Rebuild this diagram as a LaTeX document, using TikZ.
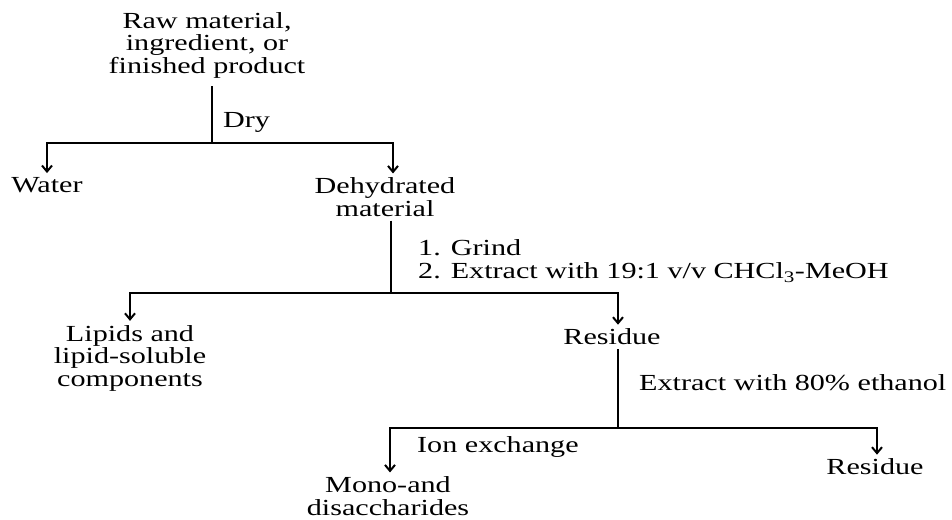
\documentclass[tikz,border=0pt]{standalone}
\usepackage{fontspec}
\setmainfont{Liberation Serif}[FakeStretch=1.31]
\usetikzlibrary{arrows.meta,positioning}

\begin{document}
\begin{tikzpicture}[
    x=1pt, y=-1pt,
    lbl/.style={font=\fontsize{23}{22.5}\selectfont, align=center, inner sep=4pt},
    note/.style={font=\fontsize{23}{23}\selectfont, align=left, anchor=west, inner sep=0pt},
    line/.style={line width=2pt},
    arr/.style={line width=2pt, -{Straight Barb[length=6pt,width=10pt]}}
]
\useasboundingbox (0,0) rectangle (952,519);

\node[lbl] (raw) at (207,45) {Raw material,\\ingredient, or\\finished product};
\node[note] (dry) at (223,122) {Dry};
\node[lbl] (water) at (47,185) {Water};
\node[lbl] (dehyd) at (385,197) {Dehydrated\\material};
\node[note] (grind) at (418,261) {1. Grind\\2. Extract with 19:1 v/v CHCl\textsubscript{3}-MeOH};
\node[lbl] (lipids) at (130,358) {Lipids and\\lipid-soluble\\components};
\node[lbl] (res1) at (612,337) {Residue};
\node[note] (ethanol) at (639,383) {Extract with 80\% ethanol};
\node[note] (ion) at (417,447) {Ion exchange};
\node[lbl] (res2) at (875,467) {Residue};
\node[lbl] (mono) at (388,496) {Mono-and\\disaccharides};

% branch points
\coordinate (j1) at (212,143);
\coordinate (j2) at (391,293);
\coordinate (j3) at (618,428);

\draw[line, shorten <=4pt] (raw.south -| j1) -- (j1);
\draw[arr] (j1) -| (water);
\draw[arr] (j1) -| (dehyd.north -| 393,0);
\draw[line] (dehyd.south -| j2) -- (j2);
\draw[arr] (j2) -| (lipids);
\draw[arr] (j2) -| (res1.north -| j3);
\draw[line] (res1.south -| j3) -- (j3);
\draw[arr] (j3) -| (mono.north -| 390,0);
\draw[arr] (j3) -| (res2.north -| 877,0);
\end{tikzpicture}
\end{document}
